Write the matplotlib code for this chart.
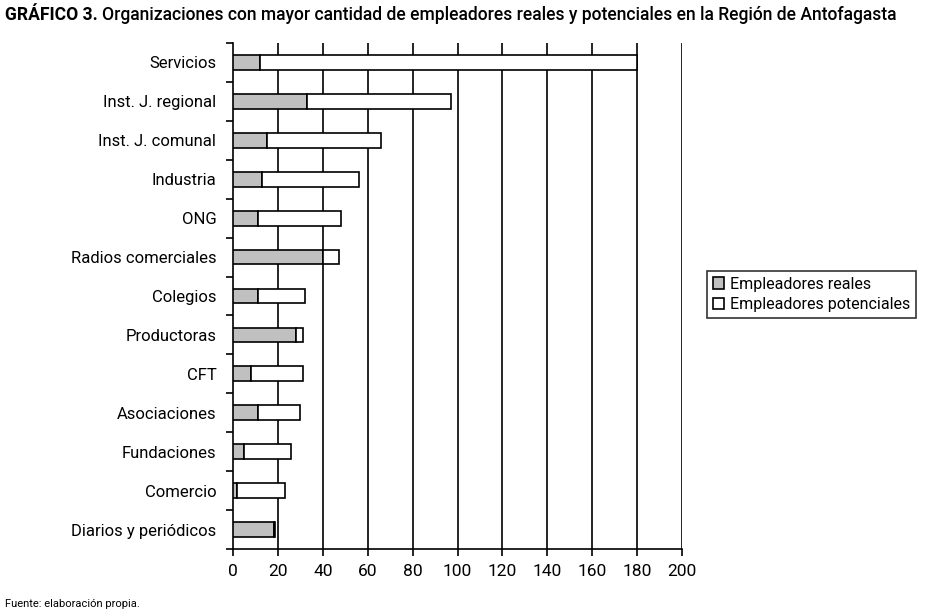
import matplotlib
matplotlib.use("Agg")
import matplotlib.pyplot as plt
import numpy as np

categories = ["Servicios", "Inst. J. regional", "Inst. J. comunal", "Industria", "ONG",
              "Radios comerciales", "Colegios", "Productoras", "CFT", "Asociaciones",
              "Fundaciones", "Comercio", "Diarios y periódicos"]
reales = [12, 33, 15, 13, 11, 40, 11, 28, 8, 11, 5, 2, 18.3]
potenciales = [168, 64, 51, 43, 37, 7, 21, 3, 23, 19, 21, 21, 0.5]
xticks = [0, 20, 40, 60, 80, 100, 120, 140, 160, 180, 200]

plt.rcParams['font.family'] = ['Roboto', 'DejaVu Sans']

fig = plt.figure(figsize=(9.25, 6.15), dpi=100)
ax = fig.add_axes([233/925, 1-549/615, (682-233)/925, (549-43)/615])

y = np.arange(len(categories))
h = 0.38
ax.barh(y, reales, height=h, color="#c0c0c0", edgecolor="black", linewidth=1.2,
        label="Empleadores reales", zorder=3)
ax.barh(y, potenciales, left=reales, height=h, color="white", edgecolor="black",
        linewidth=1.2, label="Empleadores potenciales", zorder=3)

ax.set_xlim(0, 200)
ax.set_ylim(len(categories) - 0.5, -0.5)
ax.set_xticks(xticks)
ax.set_xticklabels([str(v) for v in xticks], fontsize=12.5)
ax.set_yticks(y)
ax.set_yticklabels(categories, fontsize=12)
ax.set_yticks(np.arange(len(categories) + 1) - 0.5, minor=True)
ax.tick_params(axis='y', which='major', length=0, pad=12)
ax.tick_params(axis='y', which='minor', length=5, width=1.2)
ax.tick_params(axis='x', length=5, width=1.2, pad=6)
for v in xticks[1:]:
    ax.axvline(v, color="black", linewidth=1.2, zorder=1)
for s in ["top", "right"]:
    ax.spines[s].set_visible(False)
for s in ["left", "bottom"]:
    ax.spines[s].set_linewidth(1.2)

leg = fig.legend(loc="upper left", bbox_to_anchor=(707/925, 1-271/615), borderaxespad=0,
                 fontsize=11.5, frameon=True, fancybox=False, edgecolor="black",
                 handlelength=0.7, handleheight=0.7, handletextpad=0.4, borderpad=0.35,
                 labelspacing=0.35)
leg.get_frame().set_linewidth(1.2)

# title: bold lead + rest, fitted to reference width
lead = "GRÁFICO 3. "
rest = "Organizaciones con mayor cantidad de empleadores reales y potenciales en la Región de Antofagasta"
renderer = fig.canvas.get_renderer()

def measure(sz):
    t1 = fig.text(0, 0, lead, fontsize=sz, fontweight="bold")
    t2 = fig.text(0, 0, rest, fontsize=sz, fontweight="medium")
    w1 = t1.get_window_extent(renderer).width
    w2 = t2.get_window_extent(renderer).width
    t1.remove(); t2.remove()
    return w1, w2

size = 12.0
for _ in range(3):
    w1, w2 = measure(size)
    size = size * 895 / (w1 + w2)
w1, w2 = measure(size)
fig.text(5/925, 1-15/615, lead, fontsize=size, fontweight="bold", va="center", ha="left")
fig.text((5 + w1)/925, 1-15/615, rest, fontsize=size, fontweight="medium", va="center", ha="left")

fig.text(5/925, 1-604/615, "Fuente: elaboración propia.", fontsize=8, va="center", ha="left")

fig.savefig("out.png", dpi=100)
